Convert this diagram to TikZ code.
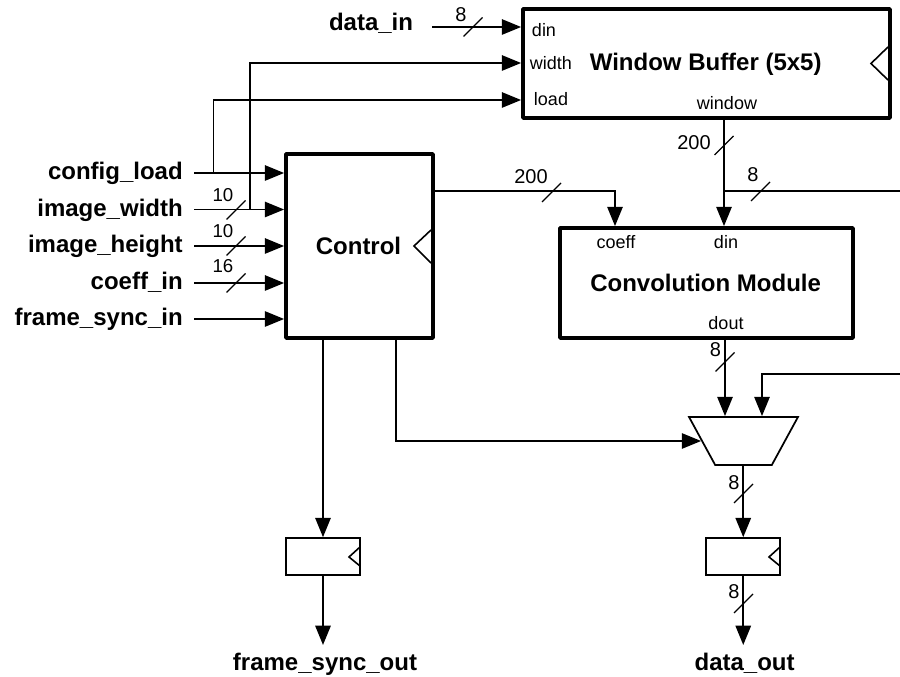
\documentclass[tikz,border=0pt]{standalone}
\usepackage{fontspec}
\setmainfont{Liberation Sans}
\usetikzlibrary{arrows.meta,shapes.geometric}
\tikzset{
  x=.75pt,y=-.75pt,
  wire/.style={line width=1.45pt,-{Triangle[length=14.5pt,width=11.5pt]},line join=miter},
  plainwire/.style={line width=1.45pt},
  bigbox/.style={draw,line width=2.8pt,rectangle,line join=round,inner sep=0pt},
  smallbox/.style={draw,line width=1.2pt,rectangle,inner sep=0pt,minimum width=55.5pt,minimum height=27.75pt},
  clockbig/.style={line width=1.2pt},
  clocksmall/.style={line width=1.2pt},
  slashmark/.style={line width=1pt},
  title/.style={font=\bfseries\fontsize{18}{20}\selectfont,inner sep=0pt},
  inlabel/.style={font=\bfseries\fontsize{18}{20}\selectfont,anchor=east,inner xsep=8.25pt,inner ysep=0pt,text height=13pt,text depth=2.5pt},
  outlabel/.style={font=\bfseries\fontsize{18}{20}\selectfont,anchor=north,inner sep=0pt,text height=18.75pt,text depth=3pt},
  pinlabel/.style={font=\fontsize{13.5}{15}\selectfont,inner sep=0pt},
  buslabel/.style={font=\fontsize{14}{16}\selectfont,inner sep=0pt},
  widelabel/.style={font=\fontsize{15}{17}\selectfont,inner sep=0pt},
}
\newcommand{\busslash}[2]{\draw[slashmark] (#1-9.5,#2+9.5) -- (#1+9.5,#2-9.5);}
\begin{document}
\begin{tikzpicture}
\useasboundingbox (0,0) rectangle (900,677);
% blocks
\node[bigbox,minimum width=275.25pt,minimum height=81.75pt] (wb) at (706.5,63.5) {};
\node[bigbox,minimum width=110.25pt,minimum height=138pt] (ctrl) at (359.5,246) {};
\node[bigbox,minimum width=219.75pt,minimum height=82.5pt] (conv) at (706.5,283) {};
\node[draw,line width=1.3pt,shape=trapezium,trapezium stretches=true,trapezium left angle=66.4,trapezium right angle=66.4,shape border rotate=180,minimum width=81.75pt,minimum height=36pt,inner sep=0pt] (mux) at (743.5,441) {\phantom{x}};
\node[smallbox] (reg1) at (323,556.5) {};
\node[smallbox] (reg2) at (743.25,556.5) {};
% block titles
\node[title] (twb) at (705.7,64) {Window Buffer (5x5)};
\node[title] (tctrl) at (358.5,245.5) {Control};
\node[title] (tconv) at (705.6,282.5) {Convolution Module};
% pin labels
\node[pinlabel] (pdin) at (544,30) {din};
\node[pinlabel] (pwidth) at (551,63) {width};
\node[pinlabel] (pload) at (551,99) {load};
\node[pinlabel] (pwindow) at (727,103) {window};
\node[pinlabel] (pcoeff) at (616,242) {coeff};
\node[pinlabel] (pcdin) at (726,242) {din};
\node[pinlabel] (pdout) at (726,323) {dout};
% clock marks
\draw[clockbig] (888,47) -- (871,63.5) -- (888,80);
\draw[clockbig] (431,230) -- (414,246) -- (431,263);
\draw[clocksmall] (360,547) -- (349,557) -- (360,566);
\draw[clocksmall] (780,547) -- (769,557) -- (780,566);
% input labels
\node[inlabel] (lcfg) at (194,173) {config\_load};
\node[inlabel] (lwid) at (194,209.5) {image\_width};
\node[inlabel] (lhei) at (194,246) {image\_height};
\node[inlabel] (lcoe) at (194,283) {coeff\_in};
\node[inlabel] (lfrm) at (194,319) {frame\_sync\_in};
\node[inlabel,text height=11pt,text depth=5pt,inner xsep=14pt] (ldat) at (432,27) {data\_in};
\node[outlabel] (lfso) at (325,645) {frame\_sync\_out};
\node[outlabel] (ldo) at (744.6,645) {data\_out};
% routing points
\coordinate (bcfg) at (213.5,100);
\coordinate (bwid) at (250,63);
\coordinate (pincoeff) at (615,191);
\coordinate (pinwin) at (724,191);
\coordinate (pindout) at (725,374);
\coordinate (rightA) at (900,191);
\coordinate (rightB) at (900,374);
\coordinate (muxB) at (762,374);
\coordinate (muxsel) at (396,441);
% connectors
\draw[wire] (ldat.east) -- (wb.west |- ldat.east);
\draw[wire] (lcfg.east) -- (ctrl.west |- lcfg.east);
\draw[wire] (lwid.east) -- (ctrl.west |- lwid.east);
\draw[wire] (lhei.east) -- (ctrl.west |- lhei.east);
\draw[wire] (lcoe.east) -- (ctrl.west |- lcoe.east);
\draw[wire] (lfrm.east) -- (ctrl.west |- lfrm.east);
\draw[wire] (bcfg |- lcfg.east) -- (bcfg) -- (wb.west |- bcfg);
\draw[wire] (bwid |- lwid.east) -- (bwid) -- (wb.west |- bwid);
\draw[wire] (ctrl.east |- pincoeff) -- (pincoeff) -- (pincoeff |- conv.north);
\draw[wire] (pinwin |- wb.south) -- (pinwin |- conv.north);
\draw[plainwire] (pinwin) -- (rightA);
\draw[wire] (pindout |- conv.south) -- (pindout |- mux.north);
\draw[wire] (rightB) -- (muxB) -- (muxB |- mux.north);
\draw[wire] (muxsel |- ctrl.south) -- (muxsel) -- (mux.west);
\draw[wire] (reg1.north |- ctrl.south) -- (reg1.north);
\draw[wire] (mux.south -| reg2.north) -- (reg2.north);
\draw[wire] (reg1.south) -- (reg1.south |- lfso.north);
\draw[wire] (reg2.south) -- (reg2.south |- ldo.north);
% bus slashes
\busslash{236}{210}
\busslash{236}{246}
\busslash{236}{283}
\busslash{473}{27}
\busslash{551.5}{192.5}
\busslash{724}{145.5}
\busslash{760.5}{191.5}
\busslash{725}{362}
\busslash{743.5}{493.5}
\busslash{743.5}{603.5}
% bus labels
\node[buslabel] (n1) at (223,195) {10};
\node[buslabel] (n2) at (223,231) {10};
\node[buslabel] (n3) at (223,266) {16};
\node[widelabel] (n4) at (461,15) {8};
\node[widelabel] (n5) at (531,177) {200};
\node[widelabel] (n6) at (694,143) {200};
\node[widelabel] (n7) at (753,175) {8};
\node[widelabel] (n8) at (715.5,350) {8};
\node[widelabel] (n9) at (734,483) {8};
\node[widelabel] (n10) at (734,592) {8};
\end{tikzpicture}
\end{document}
